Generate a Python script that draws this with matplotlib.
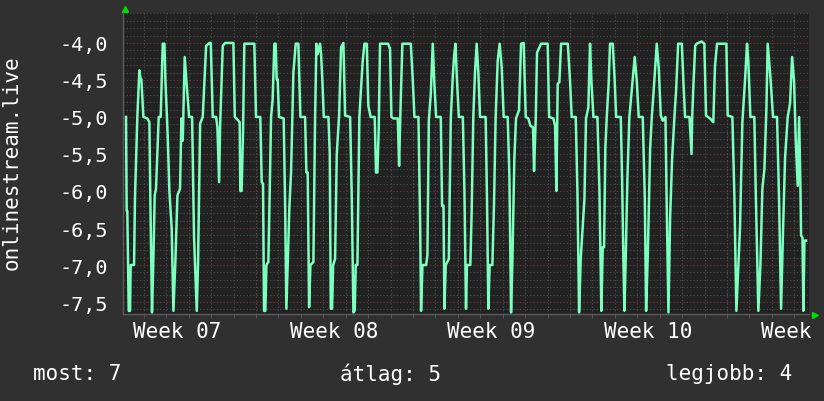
import matplotlib
matplotlib.use("Agg")
import matplotlib.pyplot as plt
from matplotlib.ticker import MultipleLocator

# hours since Monday of week 07, and the plotted value (negated rank)
hours = [
    28.9, 29.6, 30.3, 31.8, 33.2, 33.9, 37.5, 38.5, 41.0, 43.2, 44.6, 45.3, 47.5, 51.7, 53.9,
    55.0, 56.7, 58.2, 59.6, 61.0, 63.9, 66.0, 68.2, 70.0, 71.0, 73.5, 75.3, 77.8, 79.6, 81.7,
    83.9, 86.7, 88.2, 89.6, 91.7, 93.9, 96.4, 99.6, 101.7, 104.6, 106.0, 108.2, 111.0, 114.6,
    118.1, 119.6, 121.7, 125.3, 126.7, 128.5, 129.6, 132.4, 134.9, 143.8, 145.3, 149.2, 150.5,
    151.2, 152.6, 154.1, 155.5, 166.2, 168.0, 172.6, 174.1, 175.5, 176.6, 178.0, 179.1, 181.2,
    182.6, 184.1, 185.8, 187.6, 189.0, 190.1, 191.2, 192.6, 197.6, 199.1, 200.5, 201.9, 203.7,
    205.5, 208.0, 210.5, 213.3, 215.5, 220.5, 221.9, 223.3, 224.8, 226.2, 229.4, 231.2, 232.6,
    234.0, 236.5, 237.6, 239.0, 240.5, 245.5, 246.9, 248.0, 249.4, 250.5, 252.6, 254.4, 256.9,
    259.0, 261.5, 263.3, 268.7, 270.5, 272.2, 273.6, 274.7, 276.5, 278.6, 280.0, 282.2, 284.0,
    286.5, 288.2, 290.7, 295.0, 296.4, 297.9, 299.3, 300.7, 309.3, 311.4, 312.9, 315.0, 319.7,
    321.1, 322.5, 324.6, 333.6, 335.7, 337.5, 341.8, 343.6, 344.6, 346.1, 350.0, 351.4, 352.9,
    355.0, 357.1, 358.6, 360.7, 365.7, 367.1, 368.6, 369.6, 371.0, 374.3, 376.4, 378.6, 380.0,
    381.4, 382.8, 385.0, 389.3, 391.0, 392.7, 393.7, 397.3, 398.7, 400.5, 402.3, 404.1, 405.9,
    407.7, 413.7, 415.2, 416.6, 418.0, 420.9, 422.7, 424.4, 426.6, 428.7, 430.9, 433.0, 437.3,
    439.1, 440.9, 442.3, 444.4, 446.2, 449.4, 451.6, 454.4, 456.6, 459.4, 461.6, 464.4, 465.5,
    467.3, 468.7, 473.0, 480.1, 481.6, 486.2, 488.0, 489.4, 490.8, 492.6, 494.4, 501.6, 504.0,
    505.8, 510.1, 511.9, 513.7, 515.5, 517.6, 519.4, 521.1, 523.6, 525.4, 526.8, 529.0, 533.3,
    535.4, 537.5, 539.0, 540.4, 541.8, 543.3, 545.4, 546.8, 549.7, 551.8, 553.3, 558.3, 559.7,
    561.1, 562.2, 563.6, 565.4, 567.5, 570.0, 573.2, 575.4, 577.5, 581.8, 584.0, 585.4, 587.2,
    589.7, 591.5, 594.0, 596.8, 599.0, 601.1, 603.2, 606.1, 607.5, 609.3, 611.1, 613.2, 615.7,
    617.5, 619.7, 623.6, 625.4, 627.1, 631.8, 634.0, 634.7, 636.1, 637.9, 639.5, 644.8, 647.7,
    649.5, 653.8, 657.3, 659.1, 661.3, 671.3, 672.7, 677.7, 679.8, 682.0, 684.1, 685.9, 688.4,
    691.3, 693.4, 694.8, 697.0, 701.2, 702.7, 705.5, 707.7, 709.8, 712.0, 714.1, 715.5, 718.4,
    721.2, 725.5, 727.7, 729.8, 732.0, 734.1, 736.9, 739.4, 741.6, 743.7, 745.5, 747.6, 749.1,
    750.5, 751.2, 752.7, 753.7, 754.8, 756.6,
]
values = [
    -5.0, -6.27, -6.27, -7.62, -7.62, -7.0, -7.0, -6.09, -5.0, -4.37, -4.49, -4.49, -5.0, -5.02, -5.07,
    -6.18, -7.64, -6.9, -6.06, -5.97, -5.0, -5.0, -4.01, -4.01, -4.49, -5.25, -6.0, -6.51, -7.62, -6.96,
    -6.06, -5.97, -5.02, -5.32, -4.19, -4.58, -5.0, -5.0, -6.63, -7.62, -6.96, -5.09, -5.0, -4.04,
    -4.0, -4.0, -5.0, -5.0, -5.14, -5.88, -5.12, -4.04, -4.0, -4.0, -5.0, -5.05, -5.07,
    -6.0, -6.0, -5.2, -4.01, -4.01, -5.0, -5.0, -5.88, -5.9, -7.62, -7.62, -7.0, -6.96,
    -6.06, -5.0, -4.76, -4.01, -4.01, -4.49, -4.49, -5.0, -5.02, -6.15, -7.59, -7.0, -6.22,
    -5.75, -4.4, -4.01, -4.01, -5.0, -5.0, -5.75, -5.75, -7.57, -7.0, -6.96, -5.02, -4.01,
    -4.15, -4.01, -4.15, -4.51, -5.0, -5.0, -5.5, -7.59, -7.59, -7.0, -6.92, -5.5, -4.98,
    -4.06, -4.0, -4.98, -5.0, -6.11, -7.64, -7.62, -7.0, -7.0, -5.0, -4.69, -4.24, -4.01,
    -4.01, -4.85, -5.0, -5.0, -5.75, -5.75, -5.16, -4.01, -4.01, -4.08, -5.0, -5.02, -5.02,
    -5.66, -4.94, -4.01, -4.01, -4.49, -5.0, -5.0, -6.42, -7.62, -7.0, -7.0, -6.87, -5.05,
    -4.69, -4.01, -4.49, -5.0, -5.0, -6.2, -6.2, -7.59, -7.0, -6.92, -5.02, -4.44, -4.17,
    -4.01, -4.44, -5.0, -5.0, -6.0, -7.59, -7.0, -7.0, -6.31, -5.0, -4.4, -4.01, -4.4,
    -5.0, -5.0, -6.15, -7.59, -7.0, -7.0, -6.15, -5.0, -4.24, -4.01, -4.33, -5.0, -5.0,
    -5.79, -7.64, -6.96, -5.57, -5.02, -4.91, -4.01, -4.0, -5.0, -5.02, -5.12, -5.14, -5.73,
    -5.02, -4.13, -4.01, -4.01, -5.0, -5.02, -5.12, -6.0, -4.55, -4.53, -4.01, -4.01, -4.51,
    -5.0, -5.0, -6.0, -7.64, -6.9, -6.47, -6.11, -5.02, -4.87, -4.01, -4.49, -5.0, -5.0,
    -5.95, -7.62, -6.76, -6.76, -5.41, -5.0, -4.53, -4.01, -4.01, -4.51, -5.0, -5.0, -5.84,
    -6.92, -7.62, -6.9, -5.82, -5.0, -4.64, -4.19, -4.51, -5.0, -5.0, -6.09, -7.62, -6.87,
    -5.43, -5.0, -4.55, -4.01, -4.35, -4.98, -5.05, -5.0, -6.24, -7.64, -6.36, -5.57, -5.0,
    -4.64, -4.01, -4.01, -4.55, -5.0, -5.0, -5.5, -5.0, -4.55, -4.04, -4.01, -3.98, -4.01,
    -4.98, -5.02, -5.07, -4.31, -4.01, -4.01, -4.98, -5.0, -6.04, -7.62, -7.0, -6.49, -5.07,
    -4.49, -4.01, -4.26, -5.0, -5.0, -6.0, -7.62, -7.0, -5.97, -5.7, -4.89, -4.01, -4.46,
    -5.0, -5.0, -6.13, -7.59, -6.49, -5.55, -5.0, -4.82, -4.19, -4.51, -5.3, -5.93, -5.0,
    -5.93, -6.6, -6.63, -7.62, -6.67, -6.67,
]

week_labels = ["Week 07", "Week 08", "Week 09", "Week 10", "Week 11"]
week_starts = [0, 168, 336, 504, 672]
y_ticks = [-4.0, -4.5, -5.0, -5.5, -6.0, -6.5, -7.0, -7.5]
series_name = "onlinestream.live"
summary = [("most", 7), ("átlag", 5), ("legjobb", 4)]

BG = "#303030"
PLOT_BG = "#222222"
LINE = "#7dffbf"
MINOR = "#4e4e4e"
MAJOR = "#7a3434"
FONT = "DejaVu Sans Mono"

fig = plt.figure(figsize=(8.24, 4.02), dpi=100, facecolor=BG)
ax = fig.add_axes([0.1493, 0.2164, 0.8325, 0.7488])
ax.set_facecolor(PLOT_BG)

ax.set_xlim(25.7, 759.7)
ax.set_ylim(-7.662, -3.595)

# grid
ax.yaxis.set_minor_locator(MultipleLocator(0.1))
ax.xaxis.set_minor_locator(MultipleLocator(24))
ax.grid(True, which="minor", color=MINOR, linestyle=(0, (1, 2)), linewidth=0.8)
for y in y_ticks:
    ax.axhline(y, color=MAJOR, linestyle=(0, (1, 2)), linewidth=0.8, zorder=1)
for ws in week_starts + [840]:
    ax.axvline(ws, color=MAJOR, linestyle=(0, (1, 2)), linewidth=0.8, zorder=1)

ax.plot(hours, values, color=LINE, linewidth=1.8, zorder=3)

ax.set_yticks(y_ticks, [f"{v:.1f}".replace(".", ",") for v in y_ticks])
ax.set_xticks([w + 84 for w in week_starts], week_labels)
ax.tick_params(axis="both", which="major", length=0, colors="white")
ax.tick_params(axis="y", which="major", pad=11, labelsize=14.5)
ax.tick_params(axis="x", which="major", pad=5, labelsize=15)
ax.tick_params(axis="x", which="minor", length=3, color="#5a5a5a", direction="out")
ax.tick_params(axis="y", which="minor", length=0)
for lab in ax.get_xticklabels() + ax.get_yticklabels():
    lab.set_fontfamily(FONT)

for side in ["top", "right"]:
    ax.spines[side].set_visible(False)
for side in ["left", "bottom"]:
    ax.spines[side].set_color("#5a5a5a")
    ax.spines[side].set_linewidth(1)

# arrow heads at the ends of the axes
ax.plot([0.003], [1.012], marker="^", color="#00dd00", markersize=5,
        transform=ax.transAxes, clip_on=False)
ax.plot([1.009], [-0.004], marker=">", color="#00dd00", markersize=5,
        transform=ax.transAxes, clip_on=False)

fig.text(0.014, 0.595, series_name, rotation=90, color="white", fontsize=15,
         family=FONT, ha="center", va="center")

fig.text(0.040, 0.070, f"{summary[0][0]}: {summary[0][1]}", color="white",
         fontsize=15, family=FONT, ha="left", va="center")
fig.text(0.4126, 0.070, f"{summary[1][0]}: {summary[1][1]}", color="white",
         fontsize=15, family=FONT, ha="left", va="center")
fig.text(0.961, 0.070, f"{summary[2][0]}: {summary[2][1]}", color="white",
         fontsize=15, family=FONT, ha="right", va="center")

fig.savefig("out.png", dpi=100, facecolor=BG)
